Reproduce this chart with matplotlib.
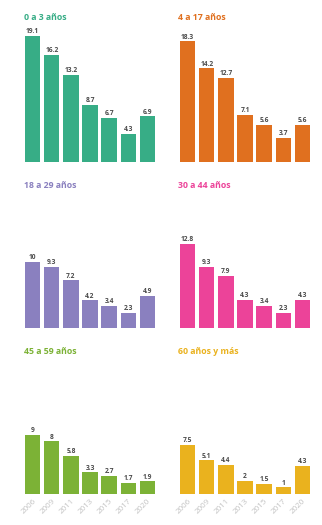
import matplotlib
matplotlib.use("Agg")
import matplotlib.pyplot as plt

years = ["2006", "2009", "2011", "2013", "2015", "2017", "2020"]

groups = ["0 a 3 años", "4 a 17 años", "18 a 29 años",
          "30 a 44 años", "45 a 59 años", "60 años y más"]

v_0_3 = [19.1, 16.2, 13.2, 8.7, 6.7, 4.3, 6.9]
v_4_17 = [18.3, 14.2, 12.7, 7.1, 5.6, 3.7, 5.6]
v_18_29 = [10, 9.3, 7.2, 4.2, 3.4, 2.3, 4.9]
v_30_44 = [12.8, 9.3, 7.9, 4.3, 3.4, 2.3, 4.3]
v_45_59 = [9, 8, 5.8, 3.3, 2.7, 1.7, 1.9]
v_60 = [7.5, 5.1, 4.4, 2, 1.5, 1, 4.3]

series = [v_0_3, v_4_17, v_18_29, v_30_44, v_45_59, v_60]
colors = ["#37AD86", "#E0701F", "#8A80BF", "#EC4399", "#7CB236", "#EAB21E"]

W, H = 322, 525
fig = plt.figure(figsize=(W / 100, H / 100), dpi=100)
fig.patch.set_facecolor("white")

font = ["Open Sans", "DejaVu Sans"]

col_left = [25, 180]
ax_w = 130
base_y = [162, 328, 494]
ax_h = 132
title_y = [18, 185, 351]
title_x = [24, 178]

for i, (name, vals, col) in enumerate(zip(groups, series, colors)):
    r, c = divmod(i, 2)
    left = col_left[c] / W
    bottom = (H - base_y[r]) / H
    ax = fig.add_axes([left, bottom, ax_w / W, ax_h / H])
    x = list(range(len(years)))
    bars = ax.bar(x, vals, width=0.8, color=col)
    ax.set_xlim(-0.4, len(years) - 0.6)
    ax.set_ylim(0, 20)
    for b, v in zip(bars, vals):
        ax.annotate(f"{v:g}", (b.get_x() + b.get_width() / 2, v),
                    xytext=(0, 0.5), textcoords="offset points",
                    ha="center", va="bottom", fontsize=4.8,
                    fontweight="bold", color="#4a4a4a", family=font)
    for s in ax.spines.values():
        s.set_visible(False)
    ax.set_yticks([])
    ax.tick_params(axis="x", length=0, pad=2.5)
    if r == 2:
        ax.set_xticks(x)
        ax.set_xticklabels(years, rotation=45, ha="right",
                           rotation_mode="anchor", fontsize=5.8,
                           color="#c2c2c2", family=font)
    else:
        ax.set_xticks([])
    fig.text(title_x[c] / W, 1 - title_y[r] / H, name, ha="left",
             va="center", fontsize=6.3, fontweight="bold", color=col,
             family=font)

fig.savefig("out.png", dpi=100, facecolor="white")
